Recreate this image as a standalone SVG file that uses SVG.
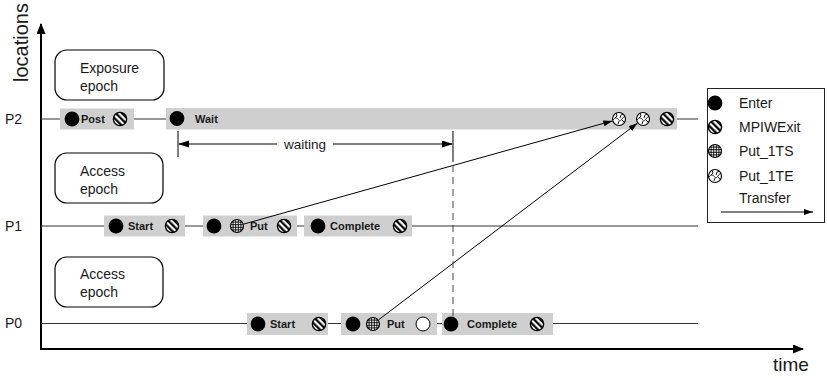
<svg xmlns="http://www.w3.org/2000/svg" xmlns:xlink="http://www.w3.org/1999/xlink" width="827" height="378" viewBox="0 0 827 378">
  <style>
    text { font-family: "Liberation Sans", Arial, Helvetica, sans-serif; fill: #1a1a1a; }
    .state { font-size: 11px; font-weight: bold; }
    .note { font-size: 14px; }
    .big { font-size: 19px; }
    .proc { stroke: #333; stroke-width: 1; fill: none; }
    .axis { stroke: #000; stroke-width: 2; fill: none; }
    .region { fill: #cfcfcf; stroke: none; }
    .epoch { fill: #fff; stroke: #000; stroke-width: 1.2; }
    .msg { stroke: #000; stroke-width: 1; fill: none; marker-end: url(#arr); }
    .dim { stroke: #000; stroke-width: 1; fill: none; }
  </style>
  <defs>
    <marker id="arr" markerUnits="userSpaceOnUse" markerWidth="10" markerHeight="8" refX="9" refY="3" orient="auto">
      <path d="M0,0 L9,3 L0,6 Z" fill="#000"/>
    </marker>
    <marker id="axisHead" markerUnits="userSpaceOnUse" markerWidth="12" markerHeight="10" refX="10" refY="4.5" orient="auto">
      <path d="M0,0 L11,4.5 L0,9 Z" fill="#000"/>
    </marker>
    <marker id="dimHead" markerUnits="userSpaceOnUse" markerWidth="12" markerHeight="8" refX="10" refY="3.5" orient="auto-start-reverse">
      <path d="M0,0 L11,3.5 L0,7 Z" fill="#000"/>
    </marker>
    <pattern id="stripes" patternUnits="userSpaceOnUse" width="4.4" height="4.4" patternTransform="rotate(-45)">
      <rect width="4.4" height="4.4" fill="#fff"/>
      <rect width="2.2" height="4.4" fill="#000"/>
    </pattern>
    <clipPath id="disc"><circle r="6.3"/></clipPath>
    <!-- event glyphs -->
    <circle id="enter" r="7.4" fill="#000"/>
    <g id="exit">
      <circle r="6.6" fill="url(#stripes)" stroke="#000" stroke-width="1.4"/>
    </g>
    <g id="putStart">
      <circle r="6.5" fill="#fff"/>
      <g clip-path="url(#disc)" stroke="#000" stroke-width="0.9">
        <path d="M-7,-3.9H7M-7,-1.3H7M-7,1.3H7M-7,3.9H7M-3.9,-7V7M-1.3,-7V7M1.3,-7V7M3.9,-7V7"/>
      </g>
      <circle r="6.5" fill="none" stroke="#000" stroke-width="1.2"/>
    </g>
    <g id="putEnd">
      <circle r="6.5" fill="#fff" stroke="#000" stroke-width="1.1"/>
      <g clip-path="url(#disc)" stroke="#000" stroke-width="0.9" fill="none">
        <path d="M-6,1 C-4,-2 -2,-1 -1,0 S1,3 3,0 S5,-2 7,-2"/>
        <path d="M-3,-6 L-2,-3 L-4,-1"/>
        <path d="M1,-1 L2,-4 L5,-5"/>
        <path d="M0,2 L-1,5"/>
        <path d="M3,1 L5,3"/>
      </g>
    </g>
    <circle id="hollow" r="7" fill="#fff" stroke="#000" stroke-width="1"/>
  </defs>

  <rect width="827" height="378" fill="#fff"/>

  <!-- axes -->
  <g id="axes">
    <line class="axis" x1="41" y1="349" x2="41" y2="24" marker-end="url(#axisHead)"/>
    <line class="axis" x1="40" y1="349" x2="803" y2="349" marker-end="url(#axisHead)"/>
    <text font-size="20" transform="translate(28,82) rotate(-90)">locations</text>
    <text class="big" x="773" y="371">time</text>
  </g>

  <!-- process timelines -->
  <g id="timelines">
    <line class="proc" x1="41" y1="119" x2="698" y2="119"/>
    <line class="proc" x1="41" y1="226" x2="698" y2="226"/>
    <line class="proc" x1="41" y1="323.5" x2="698" y2="323.5"/>
    <text class="note" x="5" y="124">P2</text>
    <text class="note" x="5" y="231">P1</text>
    <text class="note" x="5" y="328">P0</text>
  </g>

  <!-- epoch captions -->
  <g id="exposure-epoch">
    <rect class="epoch" x="55" y="50" width="109" height="50" rx="12"/>
    <text class="note" x="80" y="73">Exposure</text>
    <text class="note" x="80" y="91">epoch</text>
  </g>
  <g id="access-epoch-p1">
    <rect class="epoch" x="55" y="153" width="108" height="50" rx="12"/>
    <text class="note" x="80" y="176">Access</text>
    <text class="note" x="80" y="194">epoch</text>
  </g>
  <g id="access-epoch-p0">
    <rect class="epoch" x="55" y="257" width="108" height="50" rx="12"/>
    <text class="note" x="80" y="279">Access</text>
    <text class="note" x="80" y="297">epoch</text>
  </g>

  <!-- P2 regions -->
  <g id="p2-post">
    <rect class="region" x="60" y="108.5" width="74" height="21"/>
    <use href="#enter" x="72" y="119"/>
    <text class="state" x="81" y="123">Post</text>
    <use href="#exit" x="120" y="119"/>
  </g>
  <g id="p2-wait">
    <rect class="region" x="166" y="108" width="511" height="21.5"/>
    <use href="#enter" x="177" y="118.5"/>
    <text class="state" x="195" y="123">Wait</text>
    <use href="#putEnd" x="619" y="119"/>
    <use href="#putEnd" x="643" y="119"/>
    <use href="#exit" x="667" y="119"/>
  </g>

  <!-- P1 regions -->
  <g id="p1-start">
    <rect class="region" x="104" y="215.5" width="81" height="21"/>
    <use href="#enter" x="116" y="226"/>
    <text class="state" x="128" y="230">Start</text>
    <use href="#exit" x="172" y="226"/>
  </g>
  <g id="p1-put">
    <rect class="region" x="203" y="215.5" width="94" height="21"/>
    <use href="#enter" x="214" y="226"/>
    <use href="#putStart" x="237" y="226"/>
    <text class="state" x="250" y="230">Put</text>
    <use href="#exit" x="284" y="226"/>
  </g>
  <g id="p1-complete">
    <rect class="region" x="304" y="215.5" width="108" height="21"/>
    <use href="#enter" x="318" y="226"/>
    <text class="state" x="330" y="230">Complete</text>
    <use href="#exit" x="400" y="226"/>
  </g>

  <!-- P0 regions -->
  <g id="p0-start">
    <rect class="region" x="247" y="313" width="81" height="22"/>
    <use href="#enter" x="258" y="324"/>
    <text class="state" x="270" y="328">Start</text>
    <use href="#exit" x="319" y="324"/>
  </g>
  <g id="p0-put">
    <rect class="region" x="341" y="313" width="96" height="22"/>
    <use href="#enter" x="353" y="324"/>
    <use href="#putStart" x="373" y="324"/>
    <text class="state" x="387" y="328">Put</text>
    <use href="#hollow" x="423" y="324"/>
  </g>
  <g id="p0-complete">
    <rect class="region" x="442" y="313" width="111" height="22"/>
    <use href="#enter" x="451" y="324"/>
    <text class="state" x="467" y="328">Complete</text>
    <use href="#exit" x="537" y="324"/>
  </g>

  <!-- connectors: transfers and the waiting interval -->
  <g id="connectors">
    <line class="msg" x1="243.7" y1="224.1" x2="612.3" y2="120.9"/>
    <line class="msg" x1="378.6" y1="319.8" x2="637.4" y2="123.2"/>
    <line class="dim" x1="178" y1="131" x2="178" y2="157"/>
    <line class="dim" x1="453" y1="131" x2="453" y2="162"/>
    <line x1="453" y1="165" x2="453" y2="318" stroke="#444" stroke-width="1" stroke-dasharray="7 5"/>
    <line class="dim" x1="179" y1="144" x2="277" y2="144" marker-start="url(#dimHead)"/>
    <line class="dim" x1="333" y1="144" x2="452" y2="144" marker-end="url(#dimHead)"/>
    <text x="305" y="149" font-size="13.5" text-anchor="middle">waiting</text>
  </g>

  <!-- legend -->
  <g id="legend">
    <rect x="707.5" y="88.5" width="117" height="134" fill="#fff" stroke="#222" stroke-width="1"/>
    <use href="#enter" x="715" y="103"/>
    <text class="note" x="739" y="108">Enter</text>
    <use href="#exit" x="715" y="127"/>
    <text class="note" x="739" y="132">MPIWExit</text>
    <use href="#putStart" x="715" y="151"/>
    <text class="note" x="739" y="156">Put_1TS</text>
    <use href="#putEnd" x="715" y="176"/>
    <text class="note" x="739" y="181">Put_1TE</text>
    <text class="note" x="739" y="203">Transfer</text>
    <line class="msg" x1="721" y1="212" x2="813" y2="212"/>
  </g>
</svg>
